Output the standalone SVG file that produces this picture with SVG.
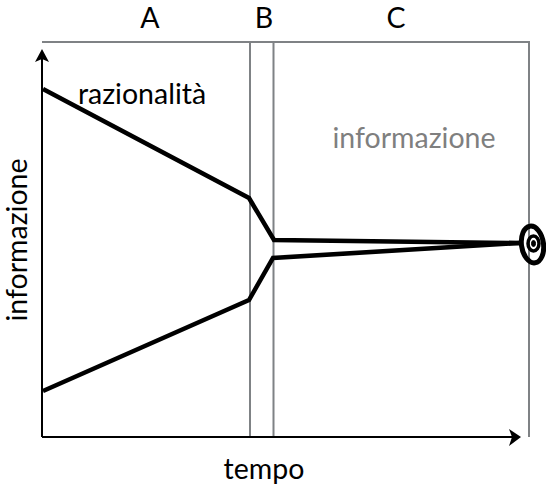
<svg xmlns="http://www.w3.org/2000/svg" width="546" height="487" viewBox="0 0 546 487">
<style>
text{font-family:Lato,"Open Sans","Liberation Sans",sans-serif;font-size:28.500px;fill:#000}
.g{fill:none;stroke:#7f8285;stroke-width:2}
.k{fill:none;stroke:#000;stroke-width:4.500;stroke-linejoin:miter}
.a{fill:none;stroke:#000;stroke-width:2}
</style>
<rect width="546" height="487" fill="#fff"/>
<g id="frame"><path class="g" d="M42 42H529V437M250 42V437M273.500 42V437"/></g>
<g id="connectors">
<path class="a" d="M42 437V58"/><path d="M42 49L49 62L42 59L35 62Z"/>
<path class="a" d="M42 437H512"/><path d="M521 437L509 429L512 437L509 446Z"/>
<path class="k" d="M43 89L249 198L274 240L520 243"/>
<path class="k" d="M43 391L249 300L273 258L520 243"/>
</g>
<g id="target" fill="none" stroke="#000">
<ellipse cx="532.500" cy="244.500" rx="11" ry="18.500" stroke-width="5" transform="rotate(-8 532.500 244.500)"/>
<ellipse cx="533.500" cy="243.500" rx="5.500" ry="7.500" stroke-width="3.500"/>
<ellipse cx="533.500" cy="243.500" rx="2" ry="3" fill="#000" stroke-width="1"/>
</g>
<g id="labels">
<text x="150" y="28" text-anchor="middle">A</text>
<text x="264" y="28" text-anchor="middle">B</text>
<text x="396" y="28" text-anchor="middle">C</text>
<text x="142" y="104" text-anchor="middle">razionalità</text>
<text x="414" y="148" text-anchor="middle" style="fill:#7f7f7f">informazione</text>
<text x="264" y="479" text-anchor="middle">tempo</text>
<text transform="translate(27 240) rotate(-90)" text-anchor="middle">informazione</text>
</g>
</svg>
